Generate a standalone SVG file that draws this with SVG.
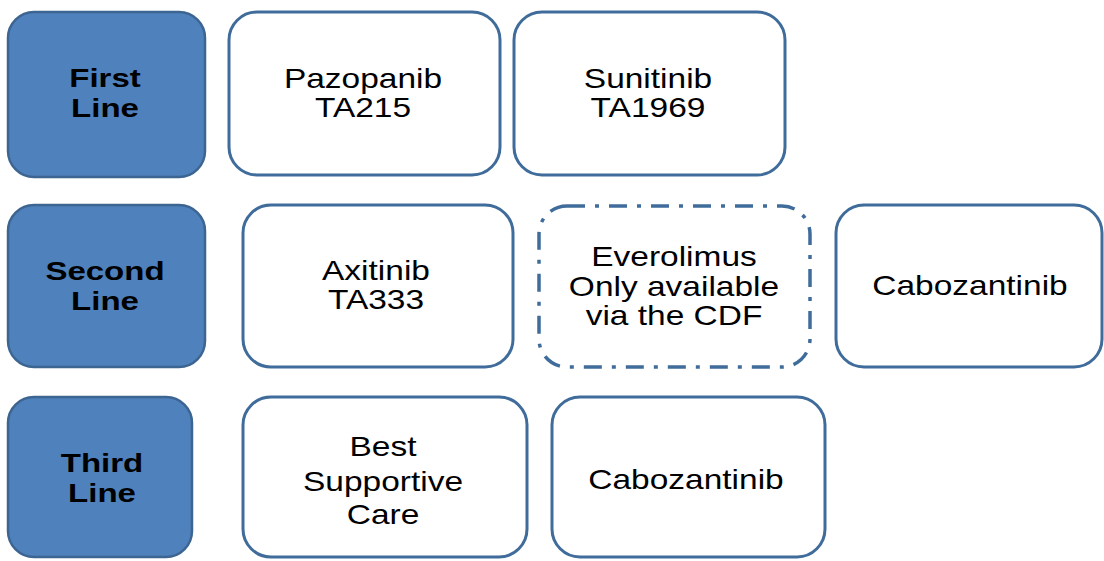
<svg xmlns="http://www.w3.org/2000/svg" width="1104" height="561" viewBox="0 0 1104 561">
  <style>
    .hdr rect { fill: #4f81bd; stroke: #3c6592; stroke-width: 2.5; }
    .opt rect { fill: #ffffff; stroke: #3f6c9b; stroke-width: 3; }
    .cdf rect { fill: #ffffff; stroke: #3f6c9b; stroke-width: 3.5; stroke-dasharray: 18 10 4 10; }
    .hdr text { font-family: "Liberation Sans", Arial, sans-serif; font-weight: bold; font-size: 26px; fill: #000; text-anchor: middle; }
    .opt text, .cdf text { font-family: "Liberation Sans", Arial, sans-serif; font-size: 27px; fill: #000; text-anchor: middle; }
  </style>
  <rect width="1104" height="561" fill="#ffffff"/>

  <!-- row headers -->
  <g id="first-line" class="hdr">
    <rect x="8" y="12" width="197" height="165" rx="26"/>
    <g transform="translate(105,0) scale(1.27,1)"><text y="87">First</text><text y="117">Line</text></g>
  </g>
  <g id="second-line" class="hdr">
    <rect x="8" y="205" width="197" height="162" rx="26"/>
    <g transform="translate(105,0) scale(1.27,1)"><text y="280">Second</text><text y="310">Line</text></g>
  </g>
  <g id="third-line" class="hdr">
    <rect x="8" y="397" width="184" height="160" rx="26"/>
    <g transform="translate(102,0) scale(1.27,1)"><text y="472">Third</text><text y="502">Line</text></g>
  </g>

  <!-- first line options -->
  <g id="pazopanib" class="opt">
    <rect x="229" y="12" width="271" height="163" rx="28"/>
    <g transform="translate(363,0) scale(1.24,1)"><text y="88">Pazopanib</text><text y="117">TA215</text></g>
  </g>
  <g id="sunitinib" class="opt">
    <rect x="514" y="12" width="271" height="163" rx="28"/>
    <g transform="translate(648,0) scale(1.24,1)"><text y="88">Sunitinib</text><text y="117">TA1969</text></g>
  </g>

  <!-- second line options -->
  <g id="axitinib" class="opt">
    <rect x="243" y="205" width="270" height="162" rx="28"/>
    <g transform="translate(376,0) scale(1.24,1)"><text y="280">Axitinib</text><text y="309">TA333</text></g>
  </g>
  <g id="everolimus" class="cdf">
    <rect x="539" y="206" width="271" height="161" rx="28"/>
    <g transform="translate(674,0) scale(1.24,1)"><text y="266">Everolimus</text><text y="296">Only available</text><text y="325">via the CDF</text></g>
  </g>
  <g id="cabozantinib-2" class="opt">
    <rect x="836" y="205" width="266" height="162" rx="28"/>
    <g transform="translate(970,0) scale(1.24,1)"><text y="295">Cabozantinib</text></g>
  </g>

  <!-- third line options -->
  <g id="best-supportive-care" class="opt">
    <rect x="243" y="397" width="284" height="160" rx="28"/>
    <g transform="translate(383,0) scale(1.24,1)"><text y="456">Best</text><text y="491">Supportive</text><text y="524">Care</text></g>
  </g>
  <g id="cabozantinib-3" class="opt">
    <rect x="552" y="397" width="273" height="160" rx="28"/>
    <g transform="translate(686,0) scale(1.24,1)"><text y="489">Cabozantinib</text></g>
  </g>

  <!-- no connectors between nodes -->
  <g id="connectors"/>
</svg>
